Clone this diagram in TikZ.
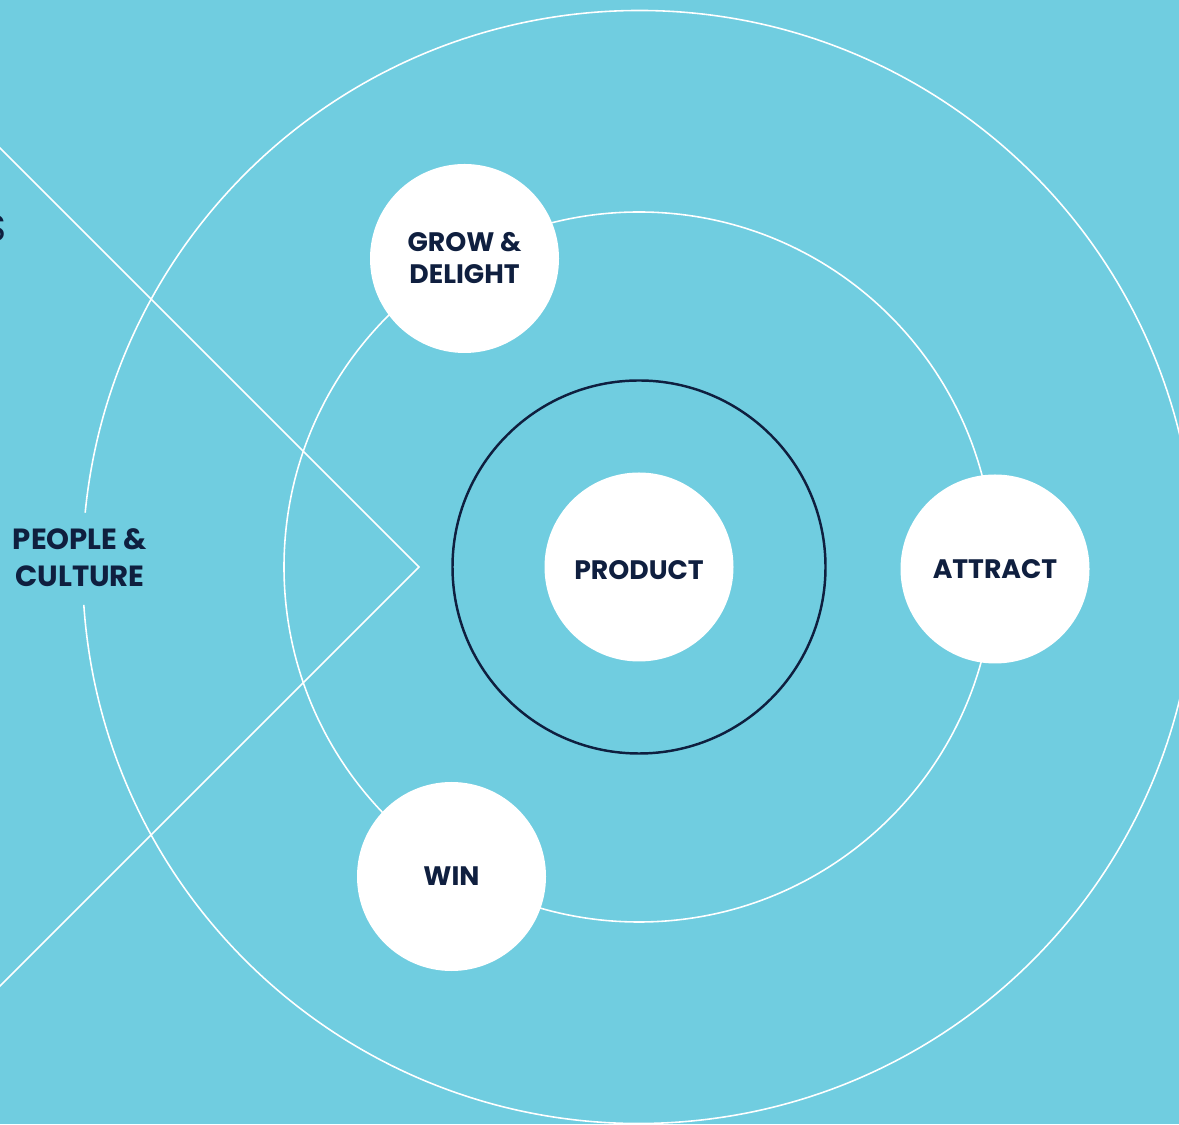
\documentclass[tikz,border=0pt]{standalone}
\usepackage{fontspec}
\setmainfont{Poppins}
\usepackage{xcolor}
\usepackage{tikz}

\definecolor{sky}{HTML}{70CDE0}
\definecolor{navy}{HTML}{0F1F3F}

\tikzset{
  ring/.style={draw=white, line width=0.45pt},
  stage/.style={circle, fill=white, minimum size=1.89cm, inner sep=0pt, align=center,
    text=navy, font=\fontsize{7.6}{9.1}\selectfont\bfseries},
}

\begin{document}
\begin{tikzpicture}
  % Canvas
  \fill[sky] (-6.39,-5.57) rectangle (5.40,5.67);
  \useasboundingbox (-6.39,-5.57) rectangle (5.40,5.67);
  \clip (-6.39,-5.57) rectangle (5.40,5.67);

  % Rings
  \draw[ring] (183.9:5.565) arc[start angle=183.9, end angle=534.4, radius=5.565];
  \draw[ring] (0,0) circle (3.55);
  \draw[navy, line width=0.7pt] (0,0) circle (1.865);

  % Chevron
  \coordinate (top) at (-6.60,4.40);
  \coordinate (tip) at (-2.20,0);
  \coordinate (bot) at (-6.60,-4.40);
  \draw[ring] (top) -- (tip) -- (bot);

  % Stages
  \node[stage] (product) at (0,0) {};
  \node[text=navy, font=\fontsize{7.6}{9.1}\selectfont\bfseries] (productlabel) at ([yshift=-0.03cm]product) {PRODUCT};
  \node[stage] (grow) at (-1.745,3.085) {GROW \&\\DELIGHT};
  \node[stage] (attract) at (3.56,-0.02) {ATTRACT};
  \node[stage] (win) at (-1.875,-3.095) {WIN};

  % Side labels
  \node[text=navy, align=center, font=\fontsize{8.3}{10.5}\selectfont\bfseries] (people) at (-5.59,0.09) {PEOPLE \&\\CULTURE};
  \node[text=navy, anchor=base east, inner sep=0pt, font=\fontsize{10.6}{12}\selectfont] (cut) at (-6.32,3.25) {S};
\end{tikzpicture}
\end{document}
